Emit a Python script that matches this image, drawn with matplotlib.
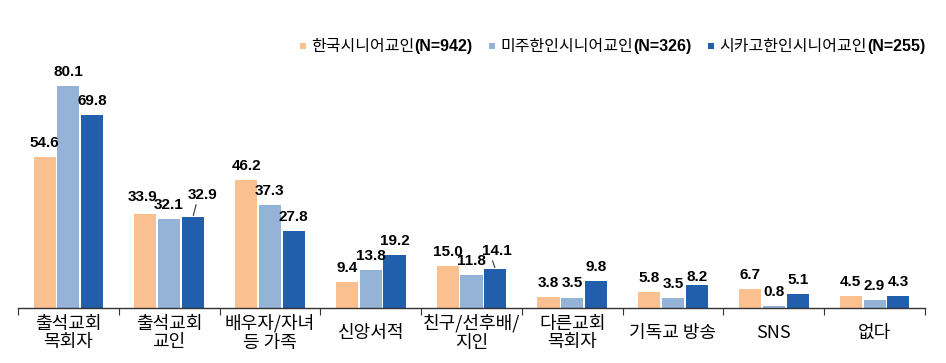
import matplotlib
matplotlib.use('Agg')
import matplotlib.pyplot as plt
import numpy as np
from matplotlib.offsetbox import AnchoredOffsetbox, HPacker, TextArea, DrawingArea
from matplotlib.patches import Rectangle

plt.rcParams['font.family'] = ['Liberation Sans', 'Noto Sans CJK KR', 'DejaVu Sans']

# data
categories = ['출석교회\n목회자', '출석교회\n교인', '배우자/자녀\n등 가족', '신앙서적',
              '친구/선후배/\n지인', '다른교회\n목회자', '기독교 방송', 'SNS', '없다']
series_ko = ['한국시니어교인', '미주한인시니어교인', '시카고한인시니어교인']
series_n = ['(N=942)', '(N=326)', '(N=255)']
korea = [54.6, 33.9, 46.2, 9.4, 15.0, 3.8, 5.8, 6.7, 4.5]
usa = [80.1, 32.1, 37.3, 13.8, 11.8, 3.5, 3.5, 0.8, 2.9]
chicago = [69.8, 32.9, 27.8, 19.2, 14.1, 9.8, 8.2, 5.1, 4.3]
values = [korea, usa, chicago]
colors = ['#FAC090', '#95B3D7', '#215EAB']

# label tweaks (series, category) -> (dx, dy, leader line) in pixels
label_adjust = {(0, 1): (-3, 17, False), (1, 1): (-1, 14, False),
                (2, 1): (10, 22, True), (2, 4): (2, 18, True),
                (2, 6): (0, 8, False), (1, 5): (0, 15, False)}

fig = plt.figure(figsize=(9.46, 3.63), dpi=100)
ax = fig.add_axes([18/946, 1-308/363, 907/946, 248/363])

x = np.arange(len(categories))
w = 0.22
step = 0.236
for s in range(3):
    xs = x + (s-1)*step
    ax.bar(xs, values[s], width=w, color=colors[s], zorder=2)
    for i, v in enumerate(values[s]):
        dx, dy, line = label_adjust.get((s, i), (0, 14, False))
        kw = {}
        if line:
            kw['arrowprops'] = dict(arrowstyle='-', color='#333333', lw=0.8,
                                    relpos=(0.3, 0.05), shrinkA=0, shrinkB=1)
        ax.annotate(f'{v:.1f}', xy=(xs[i], v), xytext=(dx, dy),
                    textcoords='offset pixels', ha='center', va='center',
                    fontsize=11, fontweight='bold', color='black', **kw)

ax.set_xlim(-0.5, len(categories)-0.5)
ax.set_ylim(0, 89.5)
ax.set_yticks([])
for sp in ['top', 'right', 'left']:
    ax.spines[sp].set_visible(False)
ax.spines['bottom'].set_color('#333333')
ax.spines['bottom'].set_linewidth(1.0)
ax.set_xticks(np.arange(-0.5, len(categories)), minor=True)
ax.set_xticks([])
ax.tick_params(axis='x', which='minor', length=5, width=0.8, color='#333333', direction='out')

for i, c in enumerate(categories):
    ax.annotate(c, xy=(i, 0), xycoords=('data', 'axes fraction'), xytext=(0, -25),
                textcoords='offset pixels', ha='center', va='center',
                fontsize=13, family=['Noto Sans CJK KR'], linespacing=1.05)

# legend with mixed weights
entries = []
for s in range(3):
    da = DrawingArea(4, 4, 0, 0)
    da.add_artist(Rectangle((0, 0), 4, 4, facecolor=colors[s], edgecolor='none'))
    t1 = TextArea(series_ko[s], textprops=dict(fontsize=11.5, family=['Noto Sans CJK KR']))
    t2 = TextArea(series_n[s], textprops=dict(fontsize=11.5, fontweight='bold'))
    txt = HPacker(children=[t1, t2], sep=0, align='center')
    entries.append(HPacker(children=[da, txt], sep=4, align='center'))
leg = HPacker(children=entries, sep=12, align='center')
box = AnchoredOffsetbox(loc='center right', child=leg, pad=0, borderpad=0, frameon=False,
                        bbox_to_anchor=(925/946, 1-46/363), bbox_transform=fig.transFigure)
fig.add_artist(box)

fig.savefig('out.png', dpi=100)
